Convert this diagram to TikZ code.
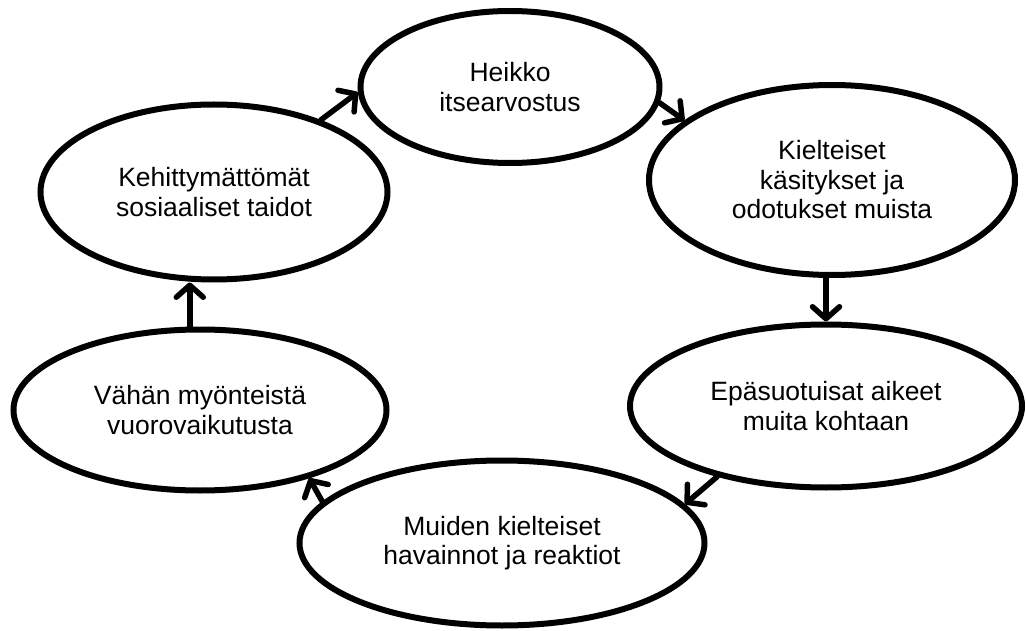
\documentclass[tikz,border=0pt]{standalone}
\usepackage{fontspec}
\setmainfont{Liberation Sans}
\usetikzlibrary{shapes.geometric,arrows.meta}
\begin{document}
\begin{tikzpicture}[x=1pt,y=-1pt,
  bubble/.style={ellipse, draw=black, line width=6pt, fill=white, inner sep=0pt,
    align=center, font=\fontsize{26.5}{29.5}\selectfont},
  link/.style={line width=5.5pt, line cap=round,
    -{Straight Barb[length=12pt,width=27pt,round]}}]
\useasboundingbox (0,0) rectangle (1026,631);
\node[bubble, minimum width=299pt, minimum height=152pt] (heikko) at (510,87) {Heikko\\itsearvostus};
\node[bubble, minimum width=366pt, minimum height=190pt] (kiel) at (832,180) {Kielteiset\\käsitykset ja\\odotukset muista};
\node[bubble, minimum width=392pt, minimum height=163pt] (epa) at (826,406) {Epäsuotuisat aikeet\\muita kohtaan};
\node[bubble, minimum width=405pt, minimum height=165pt] (muiden) at (502,543) {Muiden kielteiset\\havainnot ja reaktiot};
\node[bubble, minimum width=373pt, minimum height=161pt] (vah) at (200,410) {Vähän myönteistä\\vuorovaikutusta};
\node[bubble, minimum width=347pt, minimum height=175pt] (keh) at (214,192) {Kehittymättömät\\sosiaaliset taidot};
\draw[link] (keh.34) -- (heikko.182);
\draw[link] (heikko.-6) -- (kiel.158);
\draw[link] (kiel.south -| epa.north) -- (epa.north);
\draw[link] (epa.213) -- (muiden.12);
\draw[link] (muiden.167) -- (vah.-32);
\draw[link] (vah.97) -- (vah.97 |- keh.south);
\end{tikzpicture}
\end{document}
